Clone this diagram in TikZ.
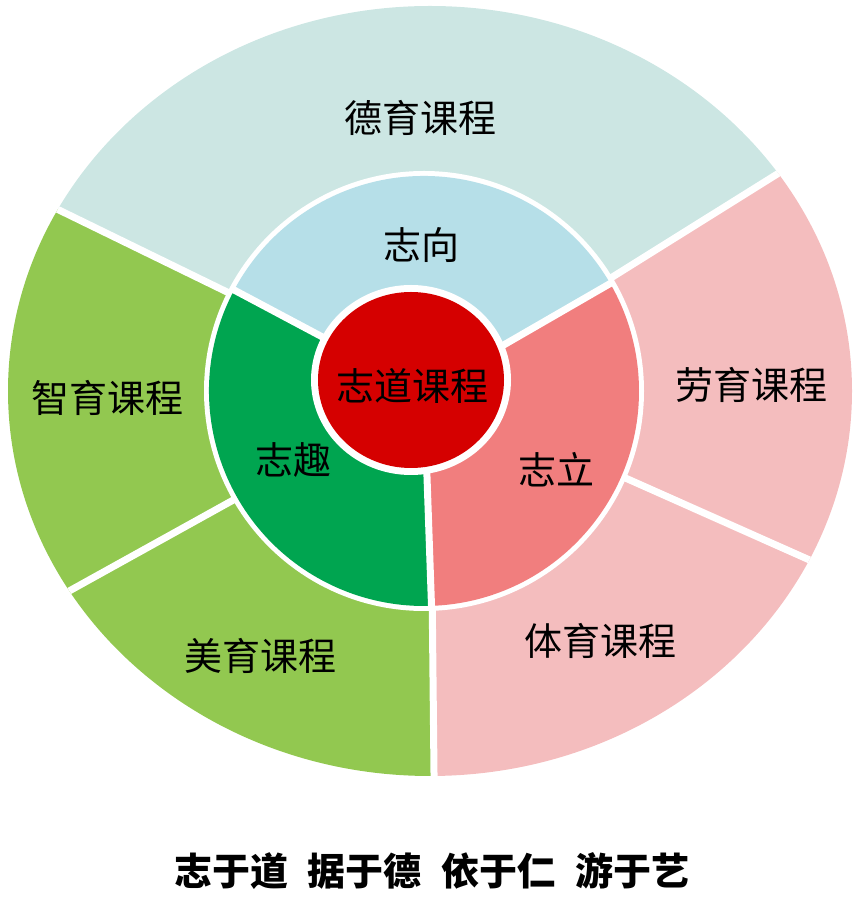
\documentclass[tikz,border=0pt]{standalone}
\usepackage{fontspec}
\newfontfamily\cjk{Noto Sans CJK SC}
\newfontfamily\cjkheavy{Noto Sans CJK SC Black}
\definecolor{deyu}{HTML}{CCE6E3}
\definecolor{zhixiang}{HTML}{B6DFE8}
\definecolor{zhiyu}{HTML}{92C850}
\definecolor{zhiqu}{HTML}{00A550}
\definecolor{laoyu}{HTML}{F4BDBE}
\definecolor{zhili}{HTML}{F17E7E}
\definecolor{zhidao}{HTML}{D50000}
\begin{document}
\begin{tikzpicture}[x=1pt,y=1pt,
  lbl/.style={font=\cjk\fontsize{38}{42}\selectfont, inner sep=0pt},
  motto/.style={font=\cjkheavy\fontsize{38}{42}\selectfont, inner sep=0pt},
  sep/.style={draw=white, line width=7pt}]
\useasboundingbox (0,0) rectangle (862,902);
\coordinate (O) at (430,511);
\coordinate (M) at (424,511);
\coordinate (C) at (411,522);
% outer ring
\begin{scope}
  \clip (O) ellipse [x radius=422, y radius=385];
  \fill[deyu] (O) -- +(32:900) -- +(93:900) -- +(154:900) -- cycle;
  \fill[zhiyu] (O) -- +(154:900) -- +(212:900) -- +(270.6:900) -- cycle;
  \fill[laoyu] (O) -- +(270.6:900) -- +(331:900) -- +(392:900) -- cycle;
  \draw[sep] (O) -- +(32:900) (O) -- +(154:900) (O) -- +(209:900)
             (O) -- +(270.6:900) (O) -- +(336:900);
\end{scope}
% middle ring
\fill[white] (M) circle (220);
\fill[zhixiang] (M) -- +(30:215) arc[start angle=30, end angle=152, radius=215] -- cycle;
\fill[zhiqu] (M) -- +(152:215) arc[start angle=152, end angle=272, radius=215] -- cycle;
\fill[zhili] (M) -- +(272:215) arc[start angle=272, end angle=390, radius=215] -- cycle;
\draw[sep] (M) -- +(30:218) (M) -- +(152:218) (M) -- +(272:218);
% centre
\fill[white] (C) ellipse [x radius=100, y radius=95];
\fill[zhidao] (C) ellipse [x radius=93, y radius=88];
% labels
\node[lbl] (tdeyu) at (420.5,784.5) {德育课程};
\node[lbl] (tzhixiang) at (421,657) {志向};
\node[lbl] (tzhidao) at (412.5,516) {志道课程};
\node[lbl] (tzhiyu) at (107,504) {智育课程};
\node[lbl] (tzhiqu) at (293,442) {志趣};
\node[lbl] (tzhili) at (556,432) {志立};
\node[lbl] (tlaoyu) at (751,517) {劳育课程};
\node[lbl] (tmeiyu) at (260,246) {美育课程};
\node[lbl] (ttiyu) at (600,261) {体育课程};
\node[motto] (tmotto) at (432,31) {志于道\hspace{20pt}据于德\hspace{20pt}依于仁\hspace{20pt}游于艺};
\end{tikzpicture}
\end{document}
